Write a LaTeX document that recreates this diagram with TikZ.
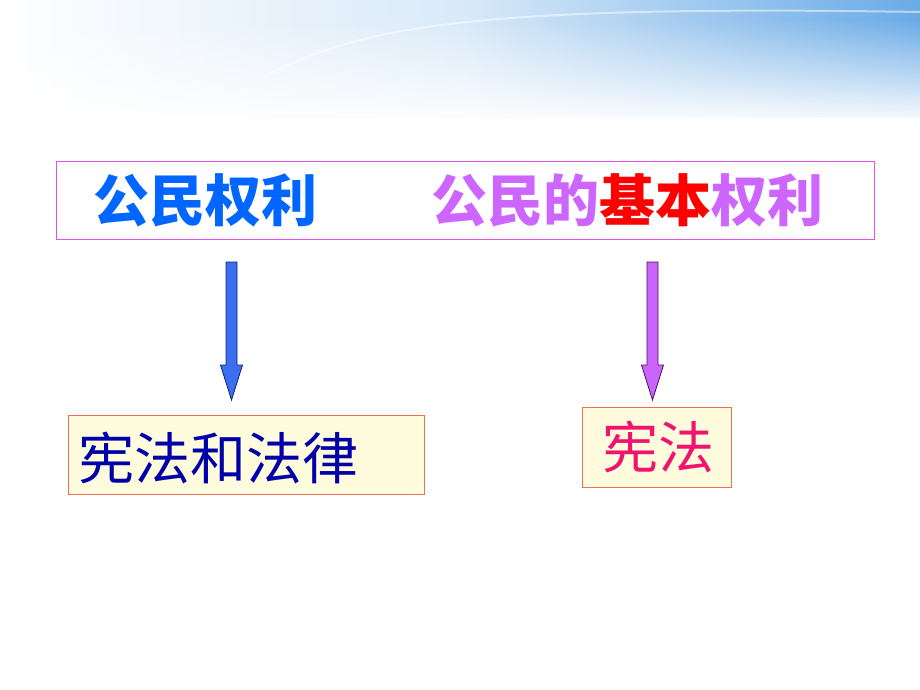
\documentclass[tikz,border=0pt]{standalone}
\usepackage{fontspec}
\newfontfamily\cjk{Noto Sans CJK SC}
\usetikzlibrary{calc,fadings}
\definecolor{bannerBlue}{RGB}{105,170,230}
\definecolor{boxMagenta}{RGB}{230,80,230}
\definecolor{rightsBlue}{RGB}{0,102,255}
\definecolor{rightsViolet}{RGB}{204,102,255}
\definecolor{arrowBlue}{RGB}{60,110,240}
\definecolor{arrowBlueLine}{RGB}{20,30,110}
\definecolor{arrowViolet}{RGB}{200,100,250}
\definecolor{arrowVioletLine}{RGB}{70,20,90}
\definecolor{lawYellow}{RGB}{255,252,222}
\definecolor{lawRed}{RGB}{240,110,90}
\definecolor{lawNavy}{RGB}{0,0,170}
\definecolor{constPink}{RGB}{240,20,110}
%% fat down arrow: style, top point, tip
\newcommand{\fatArrow}[3]{%
  \draw[#1] ($(#2)+(-5.5,0)$) -- ($(#3)+(-5.5,-35)$) -- ($(#3)+(-11,-35)$)
    -- (#3) -- ($(#3)+(11,-35)$) -- ($(#3)+(5.5,-35)$) -- ($(#2)+(5.5,0)$) -- cycle;}
\begin{document}
\begin{tikzpicture}
[x=1pt,y=-1pt,
  titleBox/.style={draw=boxMagenta,line width=0.8pt,inner sep=0pt},
  lawBox/.style={draw=lawRed,fill=lawYellow,line width=0.8pt,inner sep=0pt},
  bigText/.style={font=\cjk\bfseries\fontsize{56}{60}\selectfont,inner sep=0pt},
  plainText/.style={font=\cjk\fontsize{56}{60}\selectfont,inner sep=0pt},
  blueArrow/.style={fill=arrowBlue,draw=arrowBlueLine,line width=0.8pt},
  violetArrow/.style={fill=arrowViolet,draw=arrowVioletLine,line width=0.8pt}]
\useasboundingbox (0,0) rectangle (920,690);
%% banner
\shade[left color=white,right color=bannerBlue,middle color=bannerBlue!25] (-5,-5) rectangle (925,130);
\draw[white,opacity=0.5,line width=2pt] (262,78) .. controls (360,25) and (480,5) .. (920,12);
\fill[white,path fading=north] (-20,20) rectangle (940,125);
\fill[white] (-20,118) rectangle (940,150);
%% title box
\node[titleBox,minimum width=818pt,minimum height=78pt] (title) at (465,200) {};
\node[bigText,text=rightsBlue] (rights) at (205,200) {公民权利};
\node[bigText,anchor=west] (basic) at (431,200)
  {\textcolor{rightsViolet}{公民的}\textcolor{red}{基本}\textcolor{rightsViolet}{权利}};
%% lower boxes
\node[lawBox,minimum width=356pt,minimum height=79pt] (lawsBox) at (246,454.5) {};
\node[plainText,text=lawNavy,anchor=west] (laws) at (78,458) {宪法和法律};
\node[lawBox,minimum width=149pt,minimum height=80pt] (constBox) at (656.5,447) {};
\node[plainText,text=constPink] (const) at (658,447) {宪法};
%% arrows
\coordinate (leftTop) at (231.5,262);
\coordinate (leftTip) at (231.5,400);
\coordinate (rightTop) at (652.5,262);
\coordinate (rightTip) at (652.5,400);
\fatArrow{blueArrow}{leftTop}{leftTip}
\fatArrow{violetArrow}{rightTop}{rightTip}
\end{tikzpicture}
\end{document}
